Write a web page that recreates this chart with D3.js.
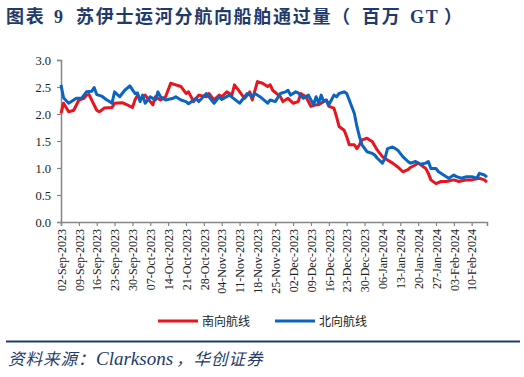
<!DOCTYPE html>
<html>
<head>
<meta charset="utf-8">
<script src="https://cdn.jsdelivr.net/npm/d3@7"></script>
<style>
  body { margin: 0; background: #fff; }
  svg { display: block; }
</style>
</head>
<body>
<div id="main"></div>
<script>
const w = 524, h = 377;
const margin = {top: 60, right: 37, bottom: 155, left: 61};

// 北向航线 (blue)
const northDates = ['2023-09-02','2023-09-03','2023-09-05','2023-09-08','2023-09-10','2023-09-12','2023-09-14','2023-09-15','2023-09-16','2023-09-18',
  '2023-09-20','2023-09-21','2023-09-22','2023-09-23','2023-09-25','2023-09-27','2023-09-29','2023-10-01','2023-10-02','2023-10-03',
  '2023-10-04','2023-10-05','2023-10-07','2023-10-09','2023-10-10','2023-10-11','2023-10-13','2023-10-16','2023-10-17','2023-10-19',
  '2023-10-21','2023-10-22','2023-10-25','2023-10-26','2023-10-29','2023-11-01','2023-11-03','2023-11-04','2023-11-07','2023-11-11',
  '2023-11-14','2023-11-16','2023-11-17','2023-11-19','2023-11-22','2023-11-23','2023-11-25','2023-11-27','2023-11-29','2023-11-30',
  '2023-12-01','2023-12-03','2023-12-04','2023-12-06','2023-12-08','2023-12-10','2023-12-11','2023-12-12','2023-12-13','2023-12-14',
  '2023-12-15','2023-12-16','2023-12-17','2023-12-18','2023-12-19','2023-12-20','2023-12-22','2023-12-23','2023-12-24','2023-12-26',
  '2023-12-27','2023-12-28','2023-12-29','2023-12-31','2024-01-02','2024-01-03','2024-01-04','2024-01-06','2024-01-07','2024-01-08',
  '2024-01-10','2024-01-11','2024-01-12','2024-01-14','2024-01-16','2024-01-17','2024-01-19','2024-01-21','2024-01-23','2024-01-24',
  '2024-01-25','2024-01-27','2024-01-28','2024-01-30','2024-02-01','2024-02-03','2024-02-04','2024-02-06','2024-02-08','2024-02-10',
  '2024-02-12','2024-02-13','2024-02-15','2024-02-16'];
const northValues = [2.54,2.30,2.20,2.29,2.29,2.41,2.42,2.49,2.36,2.33,
  2.26,2.23,2.20,2.41,2.32,2.44,2.52,2.38,2.39,2.23,
  2.35,2.20,2.32,2.26,2.41,2.32,2.26,2.29,2.32,2.26,
  2.23,2.19,2.29,2.23,2.38,2.20,2.32,2.27,2.35,2.20,
  2.38,2.32,2.38,2.32,2.20,2.26,2.23,2.38,2.41,2.44,
  2.35,2.41,2.39,2.29,2.35,2.17,2.32,2.20,2.35,2.23,
  2.26,2.17,2.26,2.35,2.32,2.38,2.41,2.38,2.26,2.01,
  1.77,1.58,1.43,1.30,1.27,1.24,1.18,1.09,1.18,1.36,
  1.39,1.36,1.33,1.21,1.12,1.09,1.12,1.07,1.09,1.12,
  0.99,0.99,0.93,0.87,0.81,0.87,0.84,0.81,0.84,0.84,
  0.81,0.90,0.87,0.83];

// 南向航线 (red)
const southDates = ['2023-09-02','2023-09-03','2023-09-05','2023-09-07','2023-09-09','2023-09-11','2023-09-12','2023-09-13','2023-09-14','2023-09-16',
  '2023-09-17','2023-09-19','2023-09-22','2023-09-23','2023-09-26','2023-09-28','2023-09-30','2023-10-01','2023-10-02','2023-10-03',
  '2023-10-05','2023-10-08','2023-10-09','2023-10-11','2023-10-13','2023-10-15','2023-10-17','2023-10-19','2023-10-21','2023-10-22',
  '2023-10-24','2023-10-26','2023-10-29','2023-10-30','2023-11-01','2023-11-03','2023-11-04','2023-11-06','2023-11-08','2023-11-09',
  '2023-11-10','2023-11-12','2023-11-13','2023-11-15','2023-11-16','2023-11-18','2023-11-20','2023-11-22','2023-11-23','2023-11-24',
  '2023-11-27','2023-11-28','2023-11-30','2023-12-02','2023-12-04','2023-12-05','2023-12-07','2023-12-09','2023-12-11','2023-12-12',
  '2023-12-14','2023-12-15','2023-12-16','2023-12-18','2023-12-19','2023-12-20','2023-12-22','2023-12-23','2023-12-24','2023-12-26',
  '2023-12-27','2023-12-28','2023-12-29','2023-12-31','2024-01-01','2024-01-02','2024-01-04','2024-01-06','2024-01-08','2024-01-10',
  '2024-01-12','2024-01-14','2024-01-16','2024-01-17','2024-01-19','2024-01-20','2024-01-21','2024-01-23','2024-01-24','2024-01-25',
  '2024-01-27','2024-01-29','2024-01-31','2024-02-03','2024-02-05','2024-02-08','2024-02-10','2024-02-13','2024-02-15','2024-02-16'];
const southValues = [2.01,2.20,2.04,2.07,2.26,2.29,2.35,2.36,2.26,2.07,
  2.04,2.11,2.12,2.20,2.21,2.17,2.12,2.26,2.35,2.27,
  2.35,2.17,2.32,2.26,2.32,2.57,2.54,2.51,2.38,2.41,
  2.23,2.35,2.32,2.38,2.26,2.35,2.32,2.41,2.35,2.54,
  2.48,2.35,2.29,2.41,2.26,2.60,2.57,2.51,2.54,2.44,
  2.32,2.23,2.29,2.20,2.23,2.38,2.32,2.14,2.17,2.17,
  2.23,2.26,2.14,2.11,1.95,1.77,1.70,1.58,1.43,1.43,
  1.36,1.43,1.52,1.55,1.52,1.49,1.33,1.21,1.15,1.09,
  1.02,0.93,0.97,1.01,1.06,1.09,1.06,0.99,0.90,0.78,
  0.71,0.75,0.75,0.78,0.75,0.78,0.78,0.81,0.78,0.74];

const yTicks = [0, 0.5, 1.0, 1.5, 2.0, 2.5, 3.0];
const xStart = '2023-09-02', xEnd = '2024-02-16';
const seriesNames = ['南向航线', '北向航线'];
const seriesColors = ['#E8141E', '#0A64C0'];

const parse = d3.timeParse('%Y-%m-%d');
const fmt = d3.timeFormat('%d-%b-%Y');

const navy = '#1F3A6B';
const serifCjk = '"Liberation Serif", "Noto Sans CJK SC", serif';

const svg = d3.select('#main')
              .append('svg')
              .attr('width', w)
              .attr('height', h);

// title, pieces placed like the original
const title = svg.append('text')
   .attr('y', 23)
   .attr('fill', navy)
   .attr('font-family', serifCjk)
   .attr('font-weight', 'bold')
   .attr('font-size', 18)
   .attr('letter-spacing', 1.7);
[['图表', 6], ['9', 54], ['苏伊士运河分航向船舶通过量（', 76], ['百万', 362], ['GT', 410], ['）', 444]]
  .forEach(p => title.append('tspan').attr('x', p[1]).text(p[0]));

const x = d3.scaleTime()
            .domain([parse(xStart), parse(xEnd)])
            .range([margin.left, w - margin.right]);

const y = d3.scaleLinear()
            .domain([0, 3])
            .range([h - margin.bottom, margin.top]);

const axisColor = '#868686';

// y axis
const yAxis = svg.append('g')
                 .attr('transform', 'translate(' + margin.left + ',0)')
                 .call(d3.axisLeft(y).tickValues(yTicks).tickFormat(d3.format('.1f')).tickSizeOuter(0).tickSize(4).tickPadding(6));
yAxis.select('.domain').attr('stroke', axisColor).attr('stroke-width', 1.5);
yAxis.selectAll('.tick line').attr('stroke', axisColor).attr('stroke-width', 1.2);
yAxis.selectAll('.tick text')
     .attr('font-family', '"Liberation Serif", serif')
     .attr('font-size', 12.5)
     .attr('fill', '#222');

// x axis, weekly ticks
const xTickVals = d3.range(0, 24).map(i => d3.timeDay.offset(parse(xStart), i * 7));
const xAxis = svg.append('g')
                 .attr('transform', 'translate(0,' + y(0) + ')')
                 .call(d3.axisBottom(x).tickValues(xTickVals).tickFormat(fmt).tickSizeOuter(0).tickSize(4));
xAxis.select('.domain').attr('stroke', axisColor).attr('stroke-width', 1.5);
xAxis.selectAll('.tick line').attr('stroke', axisColor).attr('stroke-width', 1.2);
xAxis.selectAll('.tick text')
     .attr('font-family', '"Liberation Serif", serif')
     .attr('font-size', 12)
     .attr('fill', '#222')
     .attr('text-anchor', 'end')
     .attr('transform', 'rotate(-90)')
     .attr('x', -7)
     .attr('y', 0)
     .attr('dy', '0.35em');

// lines
const line = d3.line()
               .x(d => x(d[0]))
               .y(d => y(d[1]));

const southData = southDates.map((d, i) => [parse(d), southValues[i]]);
const northData = northDates.map((d, i) => [parse(d), northValues[i]]);

svg.append('path')
   .datum(southData)
   .attr('fill', 'none')
   .attr('stroke', seriesColors[0])
   .attr('stroke-width', 3)
   .attr('stroke-linejoin', 'round')
   .attr('d', line);

svg.append('path')
   .datum(northData)
   .attr('fill', 'none')
   .attr('stroke', seriesColors[1])
   .attr('stroke-width', 3)
   .attr('stroke-linejoin', 'round')
   .attr('d', line);

// legend
const legend = svg.append('g').attr('transform', 'translate(158,321)');
const legendItem = legend.selectAll('g')
                         .data(seriesNames)
                         .enter()
                         .append('g')
                         .attr('transform', (d, i) => 'translate(' + (i * 117) + ',0)');
legendItem.append('line')
          .attr('x1', 0).attr('x2', 40)
          .attr('y1', 0).attr('y2', 0)
          .attr('stroke', (d, i) => seriesColors[i])
          .attr('stroke-width', 3);
legendItem.append('text')
          .attr('x', 44)
          .attr('y', 0)
          .attr('dy', '0.38em')
          .attr('font-family', '"Noto Sans CJK SC", sans-serif')
          .attr('font-size', 12)
          .attr('fill', '#222')
          .text(d => d);

// bottom rule and source
svg.append('line')
   .attr('x1', 6).attr('x2', 520)
   .attr('y1', 341.5).attr('y2', 341.5)
   .attr('stroke', navy)
   .attr('stroke-width', 1.8);

const source = svg.append('text')
   .attr('y', 365)
   .attr('fill', navy)
   .attr('font-family', serifCjk)
   .attr('font-style', 'italic')
   .attr('font-size', 16.5)
   .attr('letter-spacing', 1);
source.append('tspan').attr('x', 8).text('资料来源：');
source.append('tspan').attr('x', 96).attr('font-size', 19).attr('letter-spacing', 0).text('Clarksons');
source.append('tspan').attr('x', 176).text('，华创证券');
</script>
</body>
</html>
